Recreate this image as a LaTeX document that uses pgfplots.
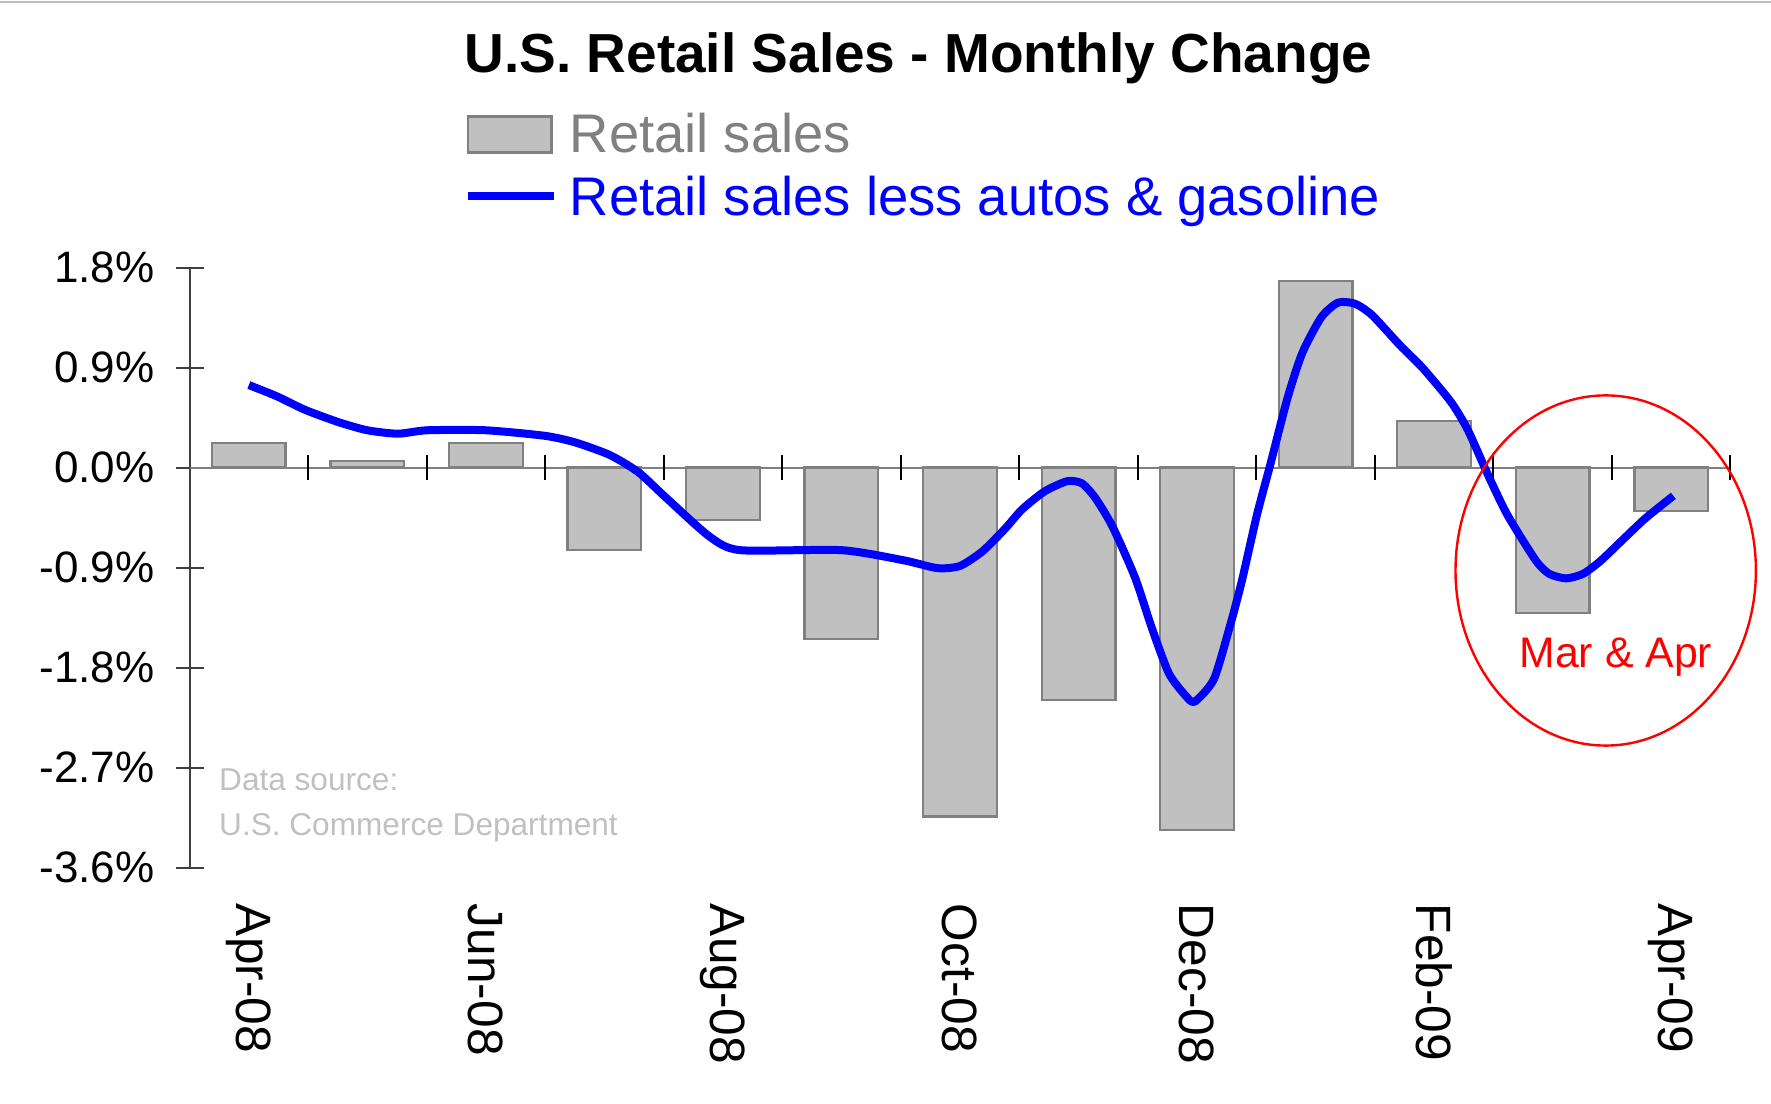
\documentclass[border=0pt]{standalone}
\usepackage{fontspec}
\setmainfont{Liberation Sans}
\usepackage{pgfplots}
\pgfplotsset{compat=1.18}
\usepackage{pgfplotstable}
\definecolor{barfill}{HTML}{C0C0C0}
\definecolor{baredge}{HTML}{808080}
\definecolor{srcgray}{HTML}{C0C0C0}

\pgfplotstableread{
x y
0 0.22
1 0.06
2 0.22
3 -0.74
4 -0.47
5 -1.54
6 -3.14
7 -2.09
8 -3.26
9 1.68
10 0.42
11 -1.31
12 -0.39
}\bardata

\pgfplotstableread{
x y
0.000 0.743
0.238 0.641
0.476 0.519
0.762 0.407
1.000 0.336
1.257 0.305
1.505 0.336
2.000 0.336
2.505 0.285
2.762 0.224
3.048 0.112
3.286 -0.041
3.524 -0.275
3.886 -0.620
4.143 -0.743
5.000 -0.743
5.524 -0.834
5.810 -0.905
6.000 -0.885
6.190 -0.753
6.381 -0.549
6.524 -0.376
6.714 -0.214
6.905 -0.122
7.029 -0.142
7.143 -0.275
7.286 -0.529
7.476 -0.987
7.619 -1.445
7.762 -1.851
7.905 -2.055
7.981 -2.106
8.143 -1.902
8.286 -1.394
8.381 -1.007
8.505 -0.427
8.619 0.031
8.762 0.621
8.886 1.027
9.048 1.353
9.190 1.485
9.333 1.475
9.476 1.373
9.714 1.099
9.905 0.895
10.143 0.590
10.286 0.336
10.457 -0.071
10.619 -0.427
10.857 -0.834
10.971 -0.956
11.114 -0.997
11.257 -0.956
11.400 -0.844
11.590 -0.651
11.781 -0.458
12.019 -0.254
}\linedata

\begin{document}
\begin{tikzpicture}
\begin{axis}[
  at={(47.4pt,59.1pt)}, anchor=south west,
  width=385.2pt, height=150pt, scale only axis,
  xmin=-0.5, xmax=12.5, ymin=-3.6, ymax=1.8,
  axis x line=bottom, axis y line=left,
  x axis line style={draw=none},
  y axis line style={-, draw=black!75, line width=0.5pt},
  xtick={0,2,4,6,8,10,12},
  xticklabels={Apr-08,Jun-08,Aug-08,Oct-08,Dec-08,Feb-09,Apr-09},
  x tick style={draw=none},
  xticklabel style={rotate=-90, anchor=west, inner sep=0pt, font=\fontsize{12.4}{14}\selectfont},
  xticklabel shift=5.4pt,
  ytick={-3.6,-2.7,-1.8,-0.9,0,0.9,1.8},
  yticklabel={\pgfmathprintnumber[fixed,fixed zerofill,precision=1]{\tick}\%},
  yticklabel style={inner sep=0pt, font=\fontsize{11}{13}\selectfont},
  yticklabel shift=5.1pt,
  y tick style={draw=black!75, line width=0.5pt},
  tick align=center, major tick length=7pt,
  /pgf/number format/assume math mode=true,
  clip=false,
  title={U.S. Retail Sales - Monthly Change},
  title style={at={(0.473,1.286)}, anchor=base, inner sep=0pt, font=\bfseries\fontsize{13.75}{16}\selectfont},
  legend style={at={(0.178,1.2587)}, anchor=north west, draw=none, fill=none,
    inner sep=0pt, outer sep=0pt, row sep=2.8pt, column sep=3pt,
    font=\fontsize{13.6}{16}\selectfont,
    nodes={inner sep=0pt, text height=10pt, text depth=3pt},
    cells={anchor=base west}},
]
\draw[black!50, line width=0.5pt] (axis cs:-0.5,0) -- (axis cs:12.5,0);
\pgfplotsinvokeforeach{0.5,1.5,...,12.5}{
  \draw[black, line width=0.5pt] (axis cs:#1,0) ++(0pt,-3.1pt) -- ++(0pt,6.2pt);
}
\addplot[ybar, bar width=18.4pt, fill=barfill, draw=baredge, line width=0.6pt,
  legend image code/.code={\draw[fill=barfill, draw=baredge, line width=0.6pt] (0pt,0pt) rectangle (20.9pt,9pt);}]
  table[x=x,y=y]{\bardata};
\addlegendentry{\textcolor{baredge}{Retail sales}}
\addplot[blue, line width=2pt, line join=round, smooth, tension=0.4,
  legend image code/.code={\draw[blue, line width=2pt] (0pt,4.8pt) -- (21.5pt,4.8pt);}]
  table[x=x,y=y]{\linedata};
\addlegendentry{\textcolor{blue}{Retail sales less autos \& gasoline}}
\draw[red, line width=0.6pt] (axis cs:11.448,-0.926) ellipse [x radius=37.55pt, y radius=43.77pt];
\node[red, anchor=base west, inner sep=0pt, font=\fontsize{10.7}{13}\selectfont] at (axis cs:10.714,-1.80) {Mar \& Apr};
\node[text=srcgray, anchor=base west, inner sep=0pt, font=\fontsize{7.9}{11.3}\selectfont] at (axis cs:-0.257,-2.908) {Data source:};
\node[text=srcgray, anchor=base west, inner sep=0pt, font=\fontsize{7.9}{11.3}\selectfont] at (axis cs:-0.257,-3.315) {U.S. Commerce Department};
\end{axis}
\draw[srcgray, line width=0.5pt] (0,275.6pt) -- (442.75pt,275.6pt);
\pgfresetboundingbox
\path[use as bounding box] (0,0) rectangle (442.75pt,276pt);
\end{tikzpicture}
\end{document}
